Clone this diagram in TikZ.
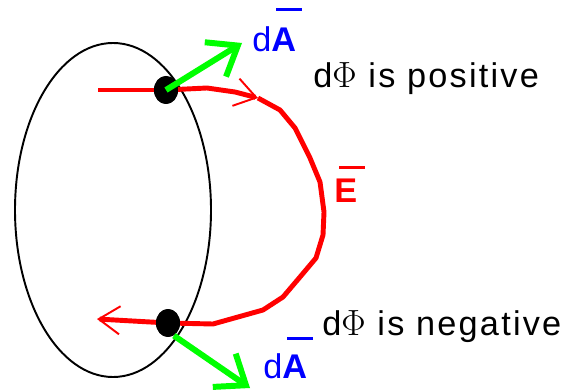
\documentclass[tikz,border=0pt]{standalone}
\usepackage{fontspec}
\setmainfont{Liberation Sans}
\usetikzlibrary{arrows.meta, shapes.geometric}

% vector letter with a bar above it
\newcommand{\ovbar}[2][1.2em]{\leavevmode\rlap{\hspace{0.14em}\raisebox{#1}{\rule{0.74em}{0.09em}}}\textbf{#2}}

\begin{document}
\begin{tikzpicture}[x=0.02cm, y=-0.02cm,
    loopline/.style={draw=black, line width=1.1pt},
    field/.style={red, line width=2.8pt, line join=round},
    fieldtip/.style={field, -{Straight Barb[length=12pt, width=16pt, line width=1.1pt]}},
    normal/.style={green, line width=3.4pt, -{Straight Barb[length=15pt, width=23pt]}},
    dot/.style={ellipse, fill=black, minimum width=0.48cm, minimum height=0.56cm, inner sep=0pt},
    lab/.style={font=\fontsize{19.5}{22}\selectfont, inner sep=0pt, anchor=base west},
    flux/.style={lab, font=\fontsize{19.5}{22}\selectfont\addfontfeatures{LetterSpace=6.5}},
  ]
    \useasboundingbox (0,0) rectangle (574,391);

    % the loop
    \draw[loopline] (113,210) ellipse [x radius=98, y radius=167];

    % field line points
    \coordinate (rstart) at (98,90);
    \coordinate (r1) at (207,88);
    \coordinate (r2) at (235,92);
    \coordinate (eup) at (258,98);
    \coordinate (r3) at (280,110);
    \coordinate (r4) at (295,128);
    \coordinate (r5) at (310,158);
    \coordinate (r6) at (320,182);
    \coordinate (r7) at (324,212);
    \coordinate (r8) at (323,235);
    \coordinate (r9) at (316,258);
    \coordinate (r10) at (300,277);
    \coordinate (r11) at (283,297);
    \coordinate (r12) at (263,310);
    \coordinate (r13) at (213,324);
    \coordinate (elow) at (97,319);

    % dots where the field crosses the loop
    \node[dot] (dotup)  at (166,90)  {};
    \node[dot] (dotlow) at (168,323) {};

    % field line E
    \draw[field] (rstart) -- (dotup.center);
    \draw[fieldtip] (dotup.center) -- (r1) -- (r2) -- (eup);
    \draw[fieldtip] (eup) -- (r3) -- (r4) -- (r5) -- (r6) -- (r7) -- (r8)
      -- (r9) -- (r10) -- (r11) -- (r12) -- (r13) -- (dotlow.center) -- (elow);
    \node[dot] at (dotup) {};
    \node[dot] at (dotlow) {};

    % area vectors
    \coordinate (aup) at (242,43);
    \coordinate (alow) at (250,388);
    \draw[normal] (dotup.center) -- (aup);
    \draw[normal] (dotlow.-65) -- (alow);

    % labels
    \node[lab, blue] (dAup)  at (252,52)  {d\ovbar[1.2em]{A}};
    \node[lab, blue] (dAlow) at (263,378) {d\ovbar[1.12em]{A}};
    \node[lab, red]  (Elab)  at (334,203) {\ovbar[1.0em]{E}};
    \node[flux] (pos) at (313,88)  {d$\Phi$ is positive};
    \node[flux] (neg) at (322,335) {d$\Phi$ is negative};
  \end{tikzpicture}
\end{document}
